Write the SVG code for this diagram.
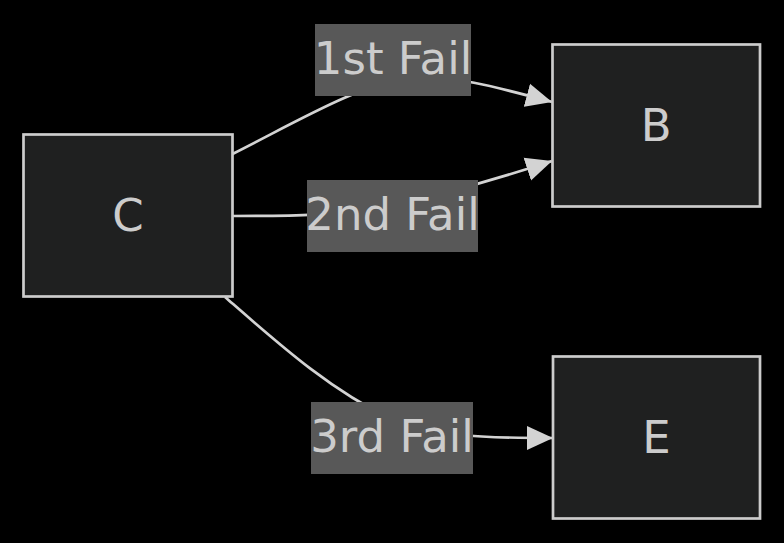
<svg xmlns="http://www.w3.org/2000/svg" width="784" height="543" viewBox="0 0 784 543">
<style>
.node rect{fill:#1f2020;stroke:#cccccc;stroke-width:2.7}
.lbl rect{fill:#585858;stroke:none}
text{font-family:"DejaVu Sans",Verdana,sans-serif;font-size:45px;fill:#cccccc;text-anchor:middle}
.edge{fill:none;stroke:#d3d3d3;stroke-width:2.7}
</style>
<defs>
<marker id="arrow" viewBox="0 0 10 10" refX="10" refY="5" markerUnits="userSpaceOnUse" markerWidth="26" markerHeight="26" orient="auto">
<path d="M0,0.4 L10,5 L0,9.6 z" fill="#d3d3d3"/>
</marker>
</defs>
<rect width="784" height="543" fill="#000000"/>
<g id="connectors">
<path class="edge" d="M232.5,154 C300,120 360,84 410,78 C450,74 500,88 552,102" marker-end="url(#arrow)"/>
<path class="edge" d="M232.5,216 C290,216 340,216 393,205 C440,195 500,178 552,161" marker-end="url(#arrow)"/>
<path class="edge" d="M225,297 C280,345 330,390 393,420 C430,436 480,438 553,438" marker-end="url(#arrow)"/>
</g>
<g id="edge-labels">
<g class="lbl" id="label-1st"><rect x="315" y="24" width="156" height="72"/><text x="393" y="74">1st Fail</text></g>
<g class="lbl" id="label-2nd"><rect x="307" y="180" width="171" height="72"/><text x="392.5" y="230">2nd Fail</text></g>
<g class="lbl" id="label-3rd"><rect x="311" y="402" width="162" height="72"/><text x="392" y="452">3rd Fail</text></g>
</g>
<g class="node" id="node-C"><rect x="23.5" y="134.5" width="209" height="162"/><text x="128" y="231">C</text></g>
<g class="node" id="node-B"><rect x="552.5" y="44.5" width="207.5" height="162"/><text x="656.25" y="141">B</text></g>
<g class="node" id="node-E"><rect x="553" y="356.5" width="207" height="162"/><text x="656.5" y="453">E</text></g>
</svg>
